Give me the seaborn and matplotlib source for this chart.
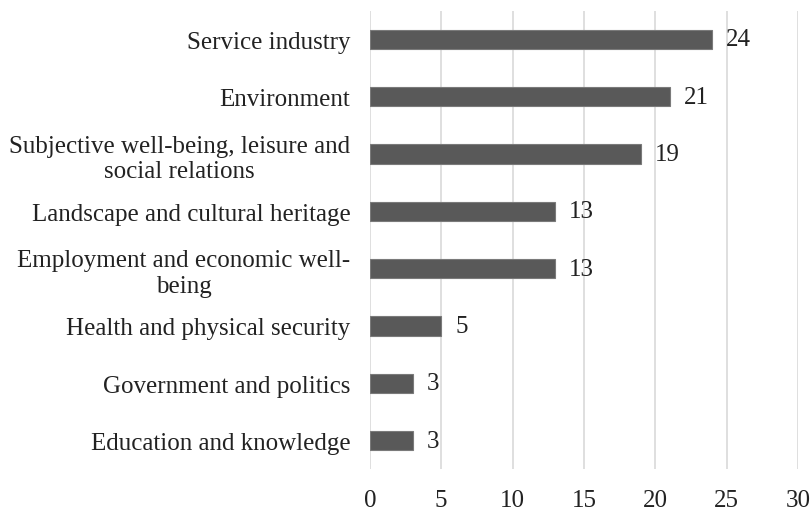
import matplotlib
matplotlib.use("Agg")
import matplotlib.pyplot as plt
import seaborn as sns
import pandas as pd

categories = [
    "Service industry",
    "Environment",
    "Subjective well-being, leisure and\nsocial relations",
    "Landscape and cultural heritage",
    "Employment and economic well-\nbeing",
    "Health and physical security",
    "Government and politics",
    "Education and knowledge",
]
counts = [24, 21, 19, 13, 13, 5, 3, 3]
x_ticks = [0, 5, 10, 15, 20, 25, 30]

df = pd.DataFrame({"category": categories, "count": counts})

sns.set_theme(style="white")
plt.rcParams["font.family"] = ["Liberation Serif", "DejaVu Serif"]

fig = plt.figure(figsize=(8.11, 5.10), dpi=100)
ax = fig.add_axes([0.456, 0.078, 0.528, 0.899])

sns.barplot(data=df, x="count", y="category", orient="h", color="#595959",
            width=0.34, edgecolor="#7a7a7a", linewidth=0.8, saturation=1,
            ax=ax, zorder=3)

for cont in ax.containers:
    ax.bar_label(cont, labels=[str(v) for v in counts], padding=10,
                 fontsize=18, color="#222222")

ax.set_xlim(0, 30)
ax.set_xticks(x_ticks)
ax.set_xticklabels([str(t) for t in x_ticks])
ax.set_xlabel("")
ax.set_ylabel("")
ax.grid(axis="x", color="#d9d9d9", linewidth=1.2, zorder=0)
ax.grid(axis="y", visible=False)
for s in ax.spines.values():
    s.set_visible(False)

ax.tick_params(axis="x", length=0, pad=14, labelsize=18, labelcolor="#222222")
ax.tick_params(axis="y", length=0, pad=14, labelsize=18, labelcolor="#222222")
for lab in ax.get_yticklabels():
    lab.set_multialignment("center")
    lab.set_linespacing(1.2)
for lab in ax.get_xticklabels():
    lab.set_clip_on(False)

fig.savefig("out.png", dpi=100)
